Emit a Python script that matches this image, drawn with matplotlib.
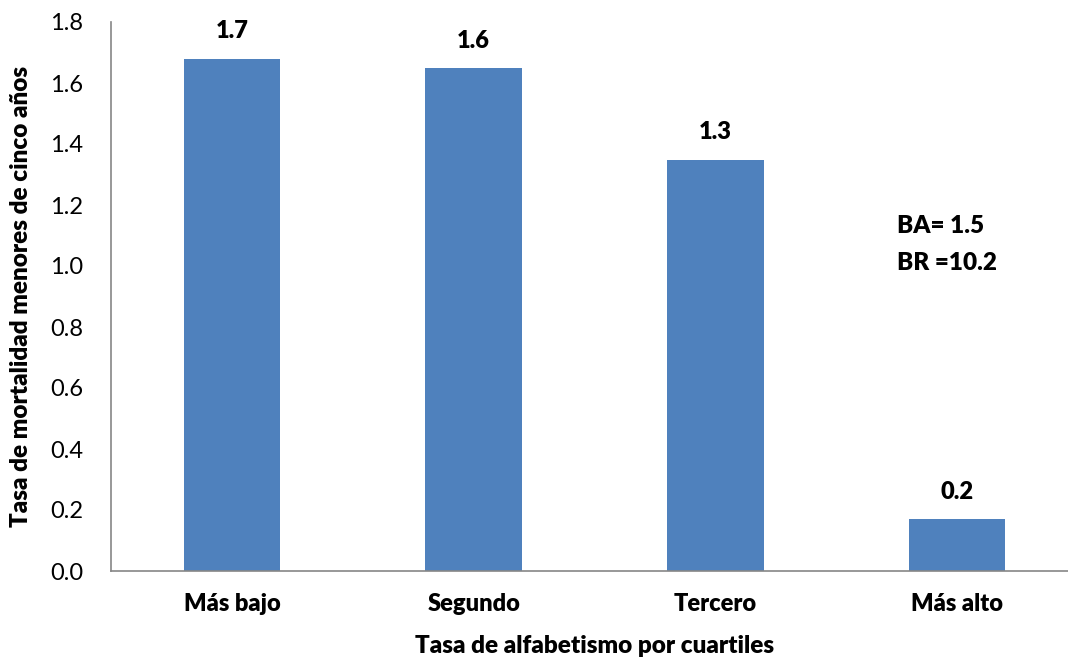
import matplotlib.pyplot as plt

plt.rcParams['font.family'] = ['Lato', 'DejaVu Sans']

categorias = ['Más bajo', 'Segundo', 'Tercero', 'Más alto']
mortalidad = [1.68, 1.649, 1.349, 0.17]
yticks = [0.0, 0.2, 0.4, 0.6, 0.8, 1.0, 1.2, 1.4, 1.6, 1.8]

fig = plt.figure(figsize=(10.68, 6.61), dpi=100)
# axes run past the right edge of the canvas on purpose
ax = fig.add_axes([111 / 1068, 1 - 571 / 661, 967 / 1068, 549 / 661])

x = range(len(categorias))
bars = ax.bar(x, mortalidad, width=0.4, color='#4F81BD')

for b, v in zip(bars, mortalidad):
    ax.text(b.get_x() + b.get_width() / 2, v + 0.09, f'{v:.1f}',
            ha='center', va='center', fontsize=17, fontweight='heavy')

ax.set_xlim(-0.5, 3.5)
ax.set_ylim(0, 1.8)
ax.set_yticks(yticks)
ax.set_yticklabels([f'{t:.1f}' for t in yticks], fontsize=17)
ax.set_xticks(list(x))
ax.set_xticklabels(categorias, fontsize=17, fontweight='heavy')
ax.tick_params(axis='both', length=0)
ax.tick_params(axis='y', pad=20)
ax.tick_params(axis='x', pad=16)

for s in ['top', 'right']:
    ax.spines[s].set_visible(False)
for s in ['left', 'bottom']:
    ax.spines[s].set_color('#868686')
    ax.spines[s].set_linewidth(1.2)

ax.set_xlabel('Tasa de alfabetismo por cuartiles', fontsize=17.5,
              fontweight='heavy', labelpad=14)
ax.set_ylabel('Tasa de mortalidad menores de cinco años', fontsize=17.5,
              fontweight='heavy', va='center')
ax.yaxis.set_label_coords(-0.093, 0.5)

ax.text(2.75, 1.13, 'BA= 1.5', fontsize=17.5, fontweight='heavy', va='center')
ax.text(2.75, 1.01, 'BR =10.2', fontsize=17.5, fontweight='heavy', va='center')

fig.savefig('out.png', dpi=100)
